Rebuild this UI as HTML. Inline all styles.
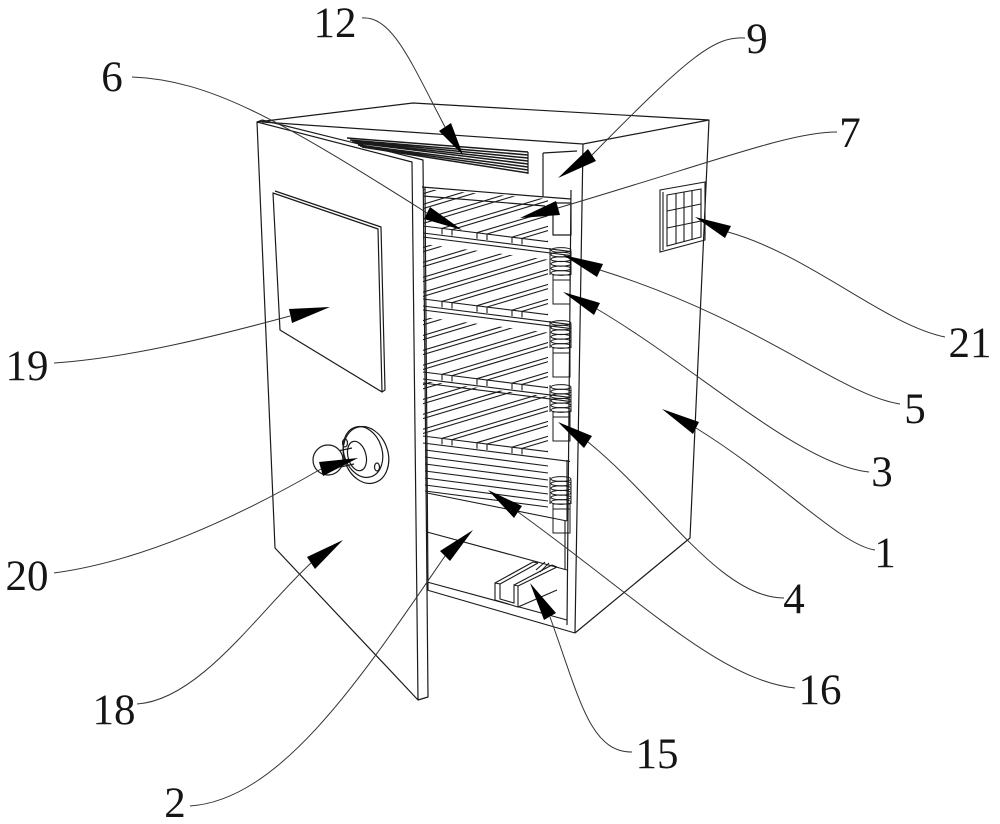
<!DOCTYPE html>
<html><head><meta charset="utf-8">
<style>
html,body{margin:0;padding:0;background:#fff;}
svg{display:block;}
text{font-family:"Liberation Serif","Noto Serif CJK SC",serif;font-size:43px;fill:#151515;}
</style></head><body>
<svg width="1000" height="824" viewBox="0 0 1000 824" xmlns="http://www.w3.org/2000/svg">
<defs>
  <clipPath id="sc"><polygon points="0,-62 125,-46.4 125,16 0,0"/></clipPath>
  <clipPath id="sc1"><polygon points="0,-44 125,-34 125,16 0,0"/></clipPath>
  <g id="slats" fill="none" stroke="#1a1a1a" stroke-width="1.1">
    <path d="M-156,-26.5L34,-83.5M-146,-25.3L44,-82.3M-121,-22.1L69,-79.1M-111,-20.9L79,-77.9M-86,-17.8L104,-74.8M-76,-16.5L114,-73.5M-51,-13.4L139,-70.4M-41,-12.1L149,-69.1M-16,-9L174,-66M-6,-7.8L184,-64.8M19,-4.6L209,-61.6M29,-3.4L219,-60.4M54,-0.3L244,-57.3M64,1L254,-56M89,4.1L279,-52.9M99,5.4L289,-51.6M124,8.5L314,-48.5"/>
    <path d="M0,-7L147,11.4"/>
    <path d="M19,-4.6v6M29,-3.4v6M54,-0.3v6M64,1v6M89,4.1v6M99,5.4v6M-6,-7.8v6"/>
  </g>
  <g id="spr" fill="none" stroke="#1a1a1a" stroke-width="1">
    <path d="M127,-58V-31M148,-55V-31"/>
    <ellipse cx="138" cy="-56" rx="10" ry="2.4"/>
    <ellipse cx="138" cy="-51.4" rx="10" ry="2.4"/>
    <ellipse cx="138" cy="-46.8" rx="10" ry="2.4"/>
    <ellipse cx="138" cy="-42.2" rx="10" ry="2.4"/>
    <ellipse cx="138" cy="-37.6" rx="10" ry="2.4"/>
    <ellipse cx="138" cy="-33" rx="10" ry="2.4"/>
    <rect x="130" y="-31" width="17" height="29"/>
    <path d="M130,-26H147"/>
  </g>
</defs>

<g fill="none" stroke="#1a1a1a" stroke-width="1.2" stroke-linejoin="round">
  <!-- top face -->
  <path d="M257,122L413,103L709,120L583,144"/>
  <path d="M262,122L583,144"/>
  <!-- right side panel -->
  <path d="M709,120L690,538L575,633"/>
  <path d="M583,144L575,633"/>
  <path d="M571,190L567,625"/>
  <!-- grille 12 -->
  <g stroke-width="1.5">
    <path d="M347,138L528,152M350,140L528,155M352,141L528,158M354,142L528,161M356,143L528,164M358,145L528,167M360,146L528,170M362,147L528,173"/>
  </g>
  <path d="M528,152V174"/>
  <!-- header 9 -->
  <path d="M543,153L577,151M543,153V197M422,187L545,197L571,199"/>
  <path d="M423,196L545,206"/>
  <rect x="553" y="203" width="18" height="32"/>
  <!-- door -->
  <path d="M257,122L412,162L418,700L275,548Z" fill="#fff"/>
  <path d="M262,120L423,160L428,697L418,700"/>
  <path d="M257,122L262,120"/>
  <!-- window 19 -->
  <path d="M273,193L378,229L382,392L280,330Z"/>
  <path d="M275,191L381,227L385,390L382,392"/>
  <!-- handle 20 -->
  <ellipse cx="366" cy="455" rx="22" ry="29" transform="rotate(-18 366 455)" fill="#fff"/>
  <ellipse cx="363" cy="452" rx="19" ry="26" transform="rotate(-18 363 452)"/>
  <ellipse cx="357" cy="456" rx="9" ry="15" transform="rotate(-15 357 456)"/>
  <ellipse cx="345" cy="443" rx="2.5" ry="4"/>
  <ellipse cx="377" cy="467" rx="2.5" ry="4"/>
  <path d="M333,452L352,448M336,468L354,464"/>
  <circle cx="328" cy="460" r="15" fill="#fff"/>
  <!-- interior left -->
  <path d="M425,187L428,590"/>
</g>

<!-- shelves -->
<g transform="translate(423,233)">
  <g clip-path="url(#sc1)"><use href="#slats"/></g>
  <path d="M0,0L147,18.4M0,4L147,22.4" stroke="#1a1a1a" stroke-width="1.1" fill="none"/>
</g>
<g transform="translate(423,306)">
  <g clip-path="url(#sc)"><use href="#slats"/></g>
  <path d="M0,0L147,18.4M0,4L147,22.4" stroke="#1a1a1a" stroke-width="1.1" fill="none"/>
  <use href="#spr"/>
</g>
<g transform="translate(423,379)">
  <g clip-path="url(#sc)"><use href="#slats"/></g>
  <path d="M0,0L147,18.4M0,4L147,22.4" stroke="#1a1a1a" stroke-width="1.1" fill="none"/>
  <use href="#spr"/>
</g>
<g transform="translate(423,443)">
  <g clip-path="url(#sc)"><use href="#slats"/></g>
  <path d="M0,0L147,18.4" stroke="#1a1a1a" stroke-width="1.1" fill="none"/>
  <use href="#spr"/>
</g>
<g transform="translate(423,535)"><use href="#spr"/></g>

<g fill="none" stroke="#1a1a1a" stroke-width="1.1">
  <!-- plate stack 16 -->
  <path d="M425,450L548,466M425,457L548,473M425,464L548,480M425,471L548,487M425,478L548,494M425,485L548,501M425,491L548,507"/>
  <!-- drawer/compartment 2 -->
  <path d="M427,493L567,521M427,532L567,570M565,521V570M567,460V521"/>
  <path d="M427,582L567,620M427,590L575,633"/>
  <!-- rail 15 -->
  <path d="M495,583V600L518,607V586L514,585V603L500,599V584Z" fill="#fff"/>
  <path d="M495,583L533,562M500,584L538,563M514,585L552,565M518,586L557,567M518,607L557,590"/>
  <path d="M533,562L538,563M552,565L557,567M536,570L545,562M540,572L549,563"/>
  <!-- vent 21 -->
  <path d="M660,190L705,182L705,240L660,252Z"/>
  <path d="M663,192L663,250"/>
  <path d="M667,195L701,189L701,237L667,246Z"/>
  <path d="M667,211L701,204M667,228L701,221M676,193V244M684,192V242M692,190V240"/>
</g>

<!-- leaders -->
<g fill="none" stroke="#333" stroke-width="1">
  <path d="M362,18C392,16 410,60 445,127"/>
  <path d="M745,38C715,36 690,55 592,155"/>
  <path d="M132,77C210,80 280,120 427,213"/>
  <path d="M837,132C790,132 720,160 558,208"/>
  <path d="M945,337C885,325 810,255 728,232"/>
  <path d="M54,363C130,358 220,335 290,316"/>
  <path d="M900,404C840,395 760,320 600,270"/>
  <path d="M869,472C800,465 700,370 597,309"/>
  <path d="M875,550C840,545 780,480 696,428"/>
  <path d="M784,598C720,598 660,500 588,442"/>
  <path d="M795,688C720,680 640,600 518,512"/>
  <path d="M632,752C590,752 580,700 550,617"/>
  <path d="M54,573C150,560 250,510 321,469"/>
  <path d="M137,704C200,700 260,610 311,563"/>
  <path d="M190,806C280,800 360,680 445,556"/>
</g>

<!-- arrowheads -->
<g fill="#000" stroke="none">
  <polygon points="439,131 451,123 463,155"/>
  <polygon points="588,149 596,161 558,178"/>
  <polygon points="424,219 430,207 462,230"/>
  <polygon points="556,201 560,215 520,218"/>
  <polygon points="731,226 725,238 695,217"/>
  <polygon points="292,323 289,309 330,307"/>
  <polygon points="603,264 597,277 563,255"/>
  <polygon points="600,303 594,315 563,292"/>
  <polygon points="699,422 693,434 662,409"/>
  <polygon points="592,436 584,448 558,422"/>
  <polygon points="522,506 514,518 488,490"/>
  <polygon points="556,613 544,620 530,583"/>
  <polygon points="323,476 319,462 358,458"/>
  <polygon points="315,569 307,557 343,540"/>
  <polygon points="450,561 440,551 473,530"/>
</g>

<!-- labels -->
<g text-anchor="middle">
  <text x="335" y="37">12</text>
  <text x="757" y="53">9</text>
  <text x="112" y="91">6</text>
  <text x="850" y="147">7</text>
  <text x="970" y="357">21</text>
  <text x="27" y="380">19</text>
  <text x="915" y="423">5</text>
  <text x="882" y="486">3</text>
  <text x="885" y="567">1</text>
  <text x="27" y="590">20</text>
  <text x="794" y="613">4</text>
  <text x="820" y="704">16</text>
  <text x="114" y="724">18</text>
  <text x="657" y="768">15</text>
  <text x="175" y="817">2</text>
</g>
</svg>
</body></html>
